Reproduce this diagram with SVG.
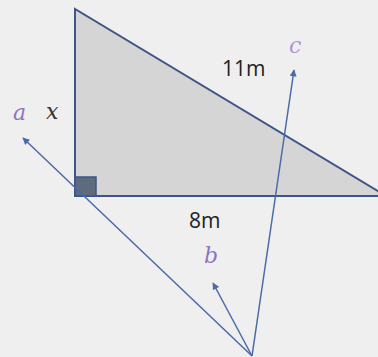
<svg xmlns="http://www.w3.org/2000/svg" width="378" height="357" viewBox="0 0 378 357">
<defs>
<style>
.tri{fill:#d5d5d5;stroke:#3e5587;stroke-width:2;stroke-linejoin:miter}
.sq{fill:#5e6a7e;stroke:#3e5587;stroke-width:1.5}
.vec{stroke:#4a6aa8;stroke-width:1.5;fill:none;marker-end:url(#ah)}
.lbl{font-family:"Open Sans","Liberation Sans",sans-serif;font-size:21px;fill:#222}
.var{font-family:"DejaVu Serif","Liberation Serif",serif;font-style:italic;font-size:22px}
.pur{fill:#9074c2}
</style>
<marker id="ah" viewBox="0 0 10 10" refX="9" refY="5" markerWidth="8" markerHeight="7" orient="auto" markerUnits="userSpaceOnUse">
<path d="M0,0 L10,5 L0,10 z" fill="#4a6aa8"/>
</marker>
</defs>
<rect width="378" height="357" fill="#efefef"/>
<g id="triangle">
<polygon class="tri" points="75,9 75,196 386,196"/>
<rect class="sq" x="75" y="177" width="21" height="19"/>
</g>
<g id="connectors">
<line class="vec" x1="252" y1="356" x2="23" y2="138"/>
<line class="vec" x1="252" y1="356" x2="213" y2="283"/>
<line class="vec" x1="252" y1="356" x2="294" y2="70"/>
</g>
<g id="labels">
<text class="lbl" x="222" y="76">11m</text>
<text class="lbl" x="189" y="228">8m</text>
<text class="var pur" x="13" y="120">a</text>
<text class="var" x="46" y="119" fill="#333">x</text>
<text class="var pur" x="289" y="53" style="fill:#ad94d6">c</text>
<text class="var pur" x="204" y="263">b</text>
</g>
</svg>
